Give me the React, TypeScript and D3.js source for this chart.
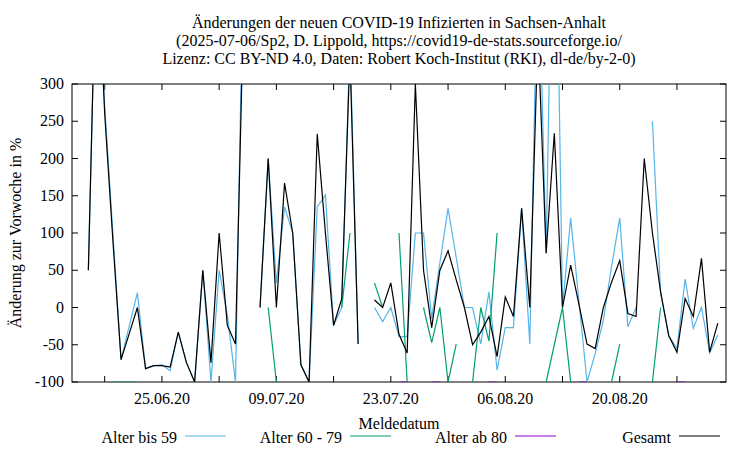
import React from "react";
import * as d3 from "d3";

const TITLE_LINES = [
  "Änderungen der neuen COVID-19 Infizierten in Sachsen-Anhalt",
  "(2025-07-06/Sp2, D. Lippold, https://covid19-de-stats.sourceforge.io/",
  "Lizenz: CC BY-ND 4.0, Daten: Robert Koch-Institut (RKI), dl-de/by-2-0)",
];
const X_TITLE = "Meldedatum";
const Y_TITLE = "Änderung zur Vorwoche in %";

// first reported day of the series, one value per day after it
const FIRST_DAY = "2020-06-16";

const alterBis59: (number | null)[] = [
  50, 500, 270, 100, -70, -25, 20, -82, -78, -77, -85, -33, -74, -100,
  50, -100, 50, -10, -100, 500, null, 0, 200, 33, 135, 100, -77, -100,
  135, 151, -24, 0, 360, -49, null, 0, -19, 0, -39, -39, 100, 100,
  -15, 60, 133, 67, 0, 0, -49, 21, -84, -27, -27, 133, -49, 500,
  73, 700, 0, 120, 10, -100, -62, -17, 55, 120, -26, 0, null, 250,
  20, -38, -55, 38, -28, 0, -61, -37,
];

const alter60bis79: (number | null)[] = [
  null, null, null, -100, -100, -100, -100, null, null, null, null, null, null, null,
  null, null, null, null, null, null, null, null, 0, -100, null, null, null, null,
  null, null, null, 0, 100, null, null, 33, 0, null, 100, -100, null, 0,
  -47, 0, -100, -49, null, -100, 0, -45, 100, null, null, null, null, null,
  -100, -50, 0, -100, null, null, null, null, -100, -49, null, null, null, -100,
  0, null, null, null, null, null, null, null,
];

const alterAb80: (number | null)[] = [
  null, null, null, null, null, null, null, null, null, null, null, null, null, null,
  null, null, null, null, null, null, null, null, null, null, null, null, null, null,
  null, null, null, null, null, null, null, null, null, null, -100, -100, null, null,
  -100, -100, null, null, null, null, null, -100, -100, null, null, null, null, null,
  null, null, null, null, -100, -100, null, null, null, null, null, null, null, null,
  null, null, -100, -100, null, null, null, null,
];

const gesamt: (number | null)[] = [
  50, 500, 260, 90, -70, -35, 0, -82, -78, -78, -80, -33, -74, -100,
  50, -74, 100, -24, -49, 410, null, 0, 200, 0, 167, 100, -77, -100,
  233, 100, -24, 12, 340, -49, null, 10, 0, 33, -36, -61, 300, 50,
  -27, 50, 76, 37, 0, -50, -33, -12, -66, 14, -12, 133, 0, 370,
  73, 234, 0, 57, 5, -49, -55, 0, 34, 63, -8, -12, 200, 100,
  21, -38, -60, 12, -12, 66, -60, -21,
];

const X_DOMAIN = ["2020-06-14", "2020-09-02"];
const X_TICKS = [
  "2020-06-18", "2020-06-25", "2020-07-02", "2020-07-09", "2020-07-16", "2020-07-23",
  "2020-07-30", "2020-08-06", "2020-08-13", "2020-08-20", "2020-08-27",
];
const X_TICK_LABELS = ["", "25.06.20", "", "09.07.20", "", "23.07.20", "", "06.08.20", "", "20.08.20", ""];
const Y_DOMAIN = [-100, 300];
const Y_TICKS = [-100, -50, 0, 50, 100, 150, 200, 250, 300];

const SERIES = [
  { name: "Alter bis 59", values: alterBis59, color: "#56b4e9" },
  { name: "Alter 60 - 79", values: alter60bis79, color: "#009e73" },
  { name: "Alter ab 80", values: alterAb80, color: "#9400d3" },
  { name: "Gesamt", values: gesamt, color: "#000000" },
];

const parse = d3.timeParse("%Y-%m-%d");

export default function App() {
  const W = 750, H = 450;
  const L = 72, R = 726, T = 84, B = 382;
  const font = "'Liberation Serif', 'Times New Roman', serif";

  const x = d3.scaleTime().domain(X_DOMAIN.map((s) => parse(s) as Date)).range([L, R]);
  const y = d3.scaleLinear().domain(Y_DOMAIN).range([B, T]);
  const start = parse(FIRST_DAY) as Date;
  const dateAt = (i: number) => d3.timeDay.offset(start, i);

  const line = d3
    .line<number | null>()
    .defined((v) => v != null)
    .x((_, i) => x(dateAt(i)))
    .y((v) => y(v as number));

  const tickLen = 6;
  const legendX = [177, 342, 507, 671];

  return (
    <svg width={W} height={H} style={{ position: "absolute", left: 0, top: 0, background: "#fff" }} fontFamily={font}>
      <rect x={0} y={0} width={W} height={H} fill="#fff" />
      <defs>
        <clipPath id="plotclip">
          <rect x={L} y={T} width={R - L} height={B - T} />
        </clipPath>
      </defs>
      {TITLE_LINES.map((t, i) => (
        <text key={i} x={(L + R) / 2} y={28 + i * 18} textAnchor="middle" fontSize={16} fill="#000">
          {t}
        </text>
      ))}
      {Y_TICKS.map((v) => (
        <g key={v}>
          <line x1={L} x2={L + tickLen} y1={y(v)} y2={y(v)} stroke="#000" strokeWidth={1} />
          <line x1={R} x2={R - tickLen} y1={y(v)} y2={y(v)} stroke="#000" strokeWidth={1} />
          <text x={64} y={y(v)} dy="0.32em" textAnchor="end" fontSize={16}>
            {v}
          </text>
        </g>
      ))}
      {X_TICKS.map((s, i) => {
        const xx = x(parse(s) as Date);
        return (
          <g key={s}>
            <line x1={xx} x2={xx} y1={B} y2={B - tickLen} stroke="#000" strokeWidth={1} />
            <line x1={xx} x2={xx} y1={T} y2={T + tickLen} stroke="#000" strokeWidth={1} />
            {X_TICK_LABELS[i] && (
              <text x={xx} y={404} textAnchor="middle" fontSize={16}>
                {X_TICK_LABELS[i]}
              </text>
            )}
          </g>
        );
      })}
      <rect x={L} y={T} width={R - L} height={B - T} fill="none" stroke="#000" strokeWidth={1} />
      <g clipPath="url(#plotclip)">
        {SERIES.map((s) => (
          <path key={s.name} d={line(s.values) || ""} fill="none" stroke={s.color} strokeWidth={1.2} strokeLinejoin="miter" />
        ))}
      </g>
      <text x={(L + R) / 2} y={429} textAnchor="middle" fontSize={16}>
        {X_TITLE}
      </text>
      <text transform={`translate(21,${(T + B) / 2}) rotate(-90)`} textAnchor="middle" fontSize={16}>
        {Y_TITLE}
      </text>
      {SERIES.map((s, i) => (
        <g key={s.name}>
          <text x={legendX[i]} y={442.5} textAnchor="end" fontSize={16}>
            {s.name}
          </text>
          <line x1={legendX[i] + 8} x2={legendX[i] + 49} y1={436} y2={436} stroke={s.color} strokeWidth={1.2} />
        </g>
      ))}
    </svg>
  );
}
